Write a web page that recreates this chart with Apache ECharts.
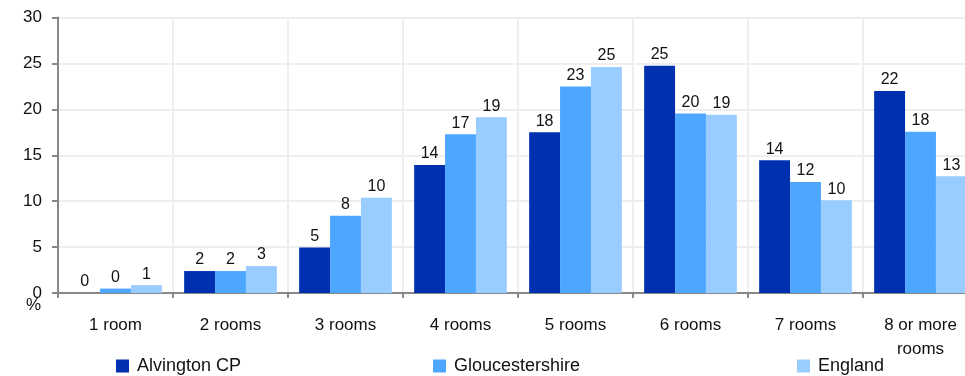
<!DOCTYPE html>
<html>
<head>
<meta charset="utf-8">
<script src="https://cdn.jsdelivr.net/npm/echarts@6/dist/echarts.min.js"></script>
<style>html,body{margin:0;padding:0;background:#fff;}#c{width:965px;height:376px;}</style>
</head>
<body>
<div id="c"></div>
<script>
const categories = ['1 room','2 rooms','3 rooms','4 rooms','5 rooms','6 rooms','7 rooms','8 or more\nrooms'];
const alvington = [0, 2.39, 4.95, 13.93, 17.5, 24.75, 14.45, 22.0];
const gloucestershire = [0.48, 2.39, 8.4, 17.3, 22.5, 19.55, 12.1, 17.56];
const england = [0.86, 2.93, 10.37, 19.15, 24.6, 19.4, 10.1, 12.7];
const seriesNames = ['Alvington CP','Gloucestershire','England'];
const yTicks = [0, 5, 10, 15, 20, 25, 30];

const colors = ['#0030b0','#4da6ff','#99ccff'];
const font = 'Liberation Sans, Arial, sans-serif';
const chart = echarts.init(document.getElementById('c'), null, {renderer:'canvas'});
const label = {show:true, position:'top', distance:3, color:'#111', fontSize:16, fontFamily:font,
  formatter: p => Math.round(p.value)};
function legend(i, left){
  return {data:[seriesNames[i]], left:left, top:357, padding:0, itemWidth:13, itemHeight:13, icon:'rect',
    textStyle:{fontSize:18, fontFamily:font, color:'#111', padding:[0,0,0,3]}};
}
chart.setOption({
  animation:false,
  color:colors,
  grid:{left:58, width:920, top:17.5, bottom:83, containLabel:false, outerBoundsMode:'none'},
  legend:[legend(0,116), legend(1,433), legend(2,797)],
  graphic:[{type:'text', left:26, top:297, style:{text:'%', fontSize:17, fontFamily:font, fill:'#111'}}],
  xAxis:{type:'category', data:categories,
    axisLine:{lineStyle:{color:'#888', width:2}},
    axisTick:{show:true, length:5, lineStyle:{color:'#888', width:2}},
    splitLine:{show:true, lineStyle:{color:'#eeeeee', width:2}},
    axisLabel:{fontSize:17, fontFamily:font, color:'#111', margin:20, lineHeight:24, interval:0}},
  yAxis:{type:'value', min:yTicks[0], max:yTicks[yTicks.length-1], interval:5,
    axisLine:{show:true, lineStyle:{color:'#888', width:2}},
    axisTick:{show:true, length:6, lineStyle:{color:'#888', width:2}},
    splitLine:{show:true, lineStyle:{color:'#eeeeee', width:2}},
    axisLabel:{fontSize:17, fontFamily:font, color:'#111', margin:16}},
  series:[
    {name:seriesNames[0], type:'bar', data:alvington, barGap:'0%', barCategoryGap:'19.4%', label:label},
    {name:seriesNames[1], type:'bar', data:gloucestershire, barGap:'0%', barCategoryGap:'19.4%', label:label},
    {name:seriesNames[2], type:'bar', data:england, barGap:'0%', barCategoryGap:'19.4%', label:label}
  ]
});
</script>
</body>
</html>
